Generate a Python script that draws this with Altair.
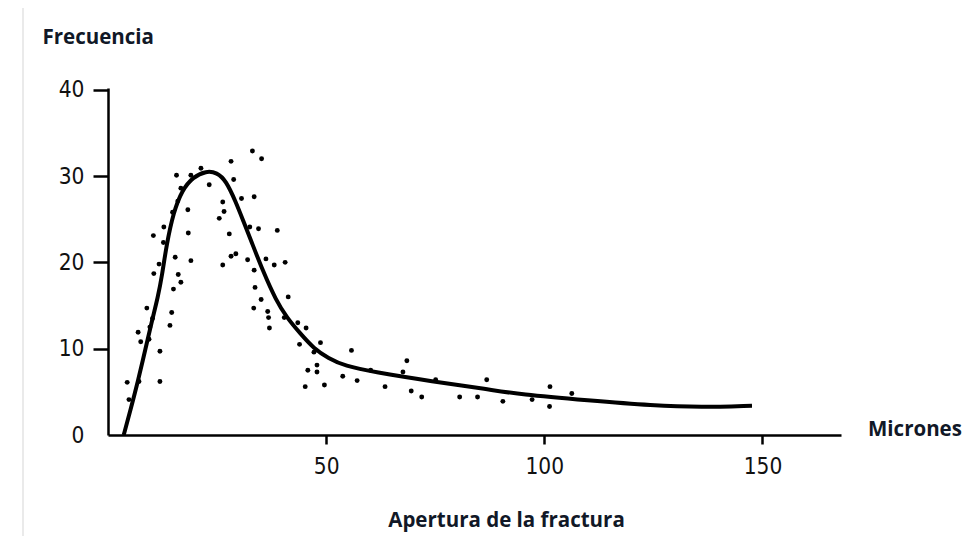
import altair as alt
import pandas as pd

# Scatter observations (aperture in microns, frequency)
pt_x = [33.1, 35.2, 28.2, 21.3, 15.7, 19.0, 28.8, 16.7, 23.2, 30.6,
        33.5, 16.0, 26.3, 18.3, 14.8, 26.6, 25.5, 10.4, 12.8, 18.4,
        27.8, 32.5, 34.5, 38.8, 12.7, 15.4, 19.0, 28.2, 29.3, 32.0,
        36.2, 38.1, 40.6, 26.3, 11.7, 10.5, 16.1, 16.7, 15.0, 33.5,
        33.7, 41.3, 35.1, 8.9, 14.6, 10.2, 14.2, 9.6, 6.9, 7.5,
        9.4, 11.9, 4.4, 7.1, 11.9, 4.8, 33.4, 36.6, 36.8, 37.0,
        40.4, 43.5, 45.4, 43.9, 48.7, 47.2, 55.8, 45.8, 47.9, 47.9,
        45.2, 49.6, 53.8, 57.1, 60.2, 63.5, 68.5, 67.6, 69.5, 71.9,
        75.1, 80.6, 84.7, 86.8, 90.5, 97.2, 101.3, 101.2, 106.3]
pt_y = [32.9, 32.0, 31.7, 30.9, 30.1, 30.1, 29.6, 28.6, 29.0, 27.4,
        27.6, 27.1, 27.0, 26.1, 25.8, 25.9, 25.1, 23.1, 24.1, 23.4,
        23.3, 24.1, 23.9, 23.7, 22.3, 20.6, 20.2, 20.7, 21.0, 20.3,
        20.4, 19.7, 20.0, 19.7, 19.8, 18.7, 18.6, 17.7, 16.9, 19.1,
        17.1, 16.0, 15.7, 14.7, 14.2, 13.5, 12.7, 12.5, 11.9, 10.8,
        11.1, 9.7, 6.1, 6.2, 6.2, 4.1, 14.7, 14.3, 13.6, 12.4,
        13.6, 13.0, 12.4, 10.5, 10.7, 9.6, 9.8, 7.5, 8.1, 7.3,
        5.6, 5.8, 6.8, 6.3, 7.5, 5.6, 8.6, 7.3, 5.1, 4.4,
        6.4, 4.4, 4.4, 6.4, 3.9, 4.1, 5.6, 3.3, 4.8]

# Fitted curve (control points of the smooth hand-drawn fit)
curve_x = [3.6, 5.2, 6.8, 8.6, 10.2, 11.4, 12.4, 13.4, 15.0, 17.0,
           19.5, 22.5, 25.0, 27.0, 29.3, 31.0, 32.8, 35.5, 38.5, 41.0,
           44.0, 47.2, 50.5, 54.3, 60.8, 74.4, 87.1, 94.3, 110.1, 124.9,
           135.9, 147.6]
curve_y = [0.0, 3.0, 6.1, 10.0, 13.5, 15.9, 18.5, 22.0, 25.8, 28.4,
           29.9, 30.6, 30.4, 29.5, 27.0, 24.8, 22.5, 19.0, 15.6, 13.6,
           11.8, 10.0, 8.9, 8.0, 7.3, 6.2, 5.3, 4.7, 4.0, 3.4,
           3.2, 3.4]

x_ticks = [50, 100, 150]
y_ticks = [0, 10, 20, 30, 40]

pts = pd.DataFrame({"x": pt_x, "y": pt_y})
crv = pd.DataFrame({"x": curve_x, "y": curve_y})

W, H = 733, 347
TICK_FONT = "DejaVu Sans Condensed"
TITLE_FONT = "Open Sans"
TITLE_COLOR = "#111827"
TITLE_SIZE = 20.5

xscale = alt.Scale(domain=[0, 168], nice=False, zero=False)
yscale = alt.Scale(domain=[0, 40.2], nice=False, zero=False)

xaxis = alt.Axis(values=x_ticks, grid=False, domainColor="black", domainWidth=2.5,
                 tickColor="black", tickWidth=2.5, tickSize=9,
                 labelFont=TICK_FONT, labelFontSize=22.5, labelColor="#111",
                 labelPadding=11, labelFontWeight="normal",
                 title="Apertura de la fractura", titleFont=TITLE_FONT,
                 titleFontSize=TITLE_SIZE, titleFontWeight="bold", titleColor=TITLE_COLOR,
                 titleX=398, titleY=85, titleBaseline="middle", titleAlign="center")
yaxis = alt.Axis(values=y_ticks, grid=False, domainColor="black", domainWidth=2.5,
                 tickColor={"condition": {"test": "datum.value === 0", "value": "transparent"},
                            "value": "black"},
                 tickWidth=2.5, tickSize=15,
                 labelFont=TICK_FONT, labelFontSize=22.5, labelColor="#111",
                 labelPadding=9,
                 title="Frecuencia", titleFont=TITLE_FONT, titleFontSize=TITLE_SIZE,
                 titleFontWeight="bold", titleColor=TITLE_COLOR, titleAngle=0,
                 titleX=-66, titleY=-51, titleAlign="left", titleBaseline="middle")

dots = alt.Chart(pts).mark_circle(color="black", opacity=1, size=24).encode(
    x=alt.X("x:Q", scale=xscale, axis=xaxis),
    y=alt.Y("y:Q", scale=yscale, axis=yaxis),
)
line = alt.Chart(crv).mark_line(color="black", strokeWidth=4,
                                interpolate="basis").encode(
    x=alt.X("x:Q", scale=xscale),
    y=alt.Y("y:Q", scale=yscale),
)
unit = alt.Chart(pd.DataFrame({"t": ["Micrones"]})).mark_text(
    align="left", baseline="middle", font=TITLE_FONT, fontSize=TITLE_SIZE,
    fontWeight="bold", color=TITLE_COLOR
).encode(text="t:N", x=alt.value(760), y=alt.value(342))

frame_left = alt.Chart(pd.DataFrame({"a": [0]})).mark_rule(
    color="#e3e3e3", strokeWidth=1.5
).encode(x=alt.value(-85), y=alt.value(-83), y2=alt.value(H + 120))
frame_top = alt.Chart(pd.DataFrame({"a": [0]})).mark_rule(
    color="#e3e3e3", strokeWidth=1.5
).encode(x=alt.value(-85), x2=alt.value(W + 150), y=alt.value(-83))

chart = alt.layer(frame_left, frame_top, line, dots, unit).properties(
    width=W, height=H, background="white",
    autosize=alt.AutoSizeParams(type="none"),
    padding={"left": 100, "top": 80, "right": 131, "bottom": 101},
).configure_view(strokeWidth=0, stroke="transparent")

chart.save("out.html", embed_options={"renderer": "svg", "actions": False})
